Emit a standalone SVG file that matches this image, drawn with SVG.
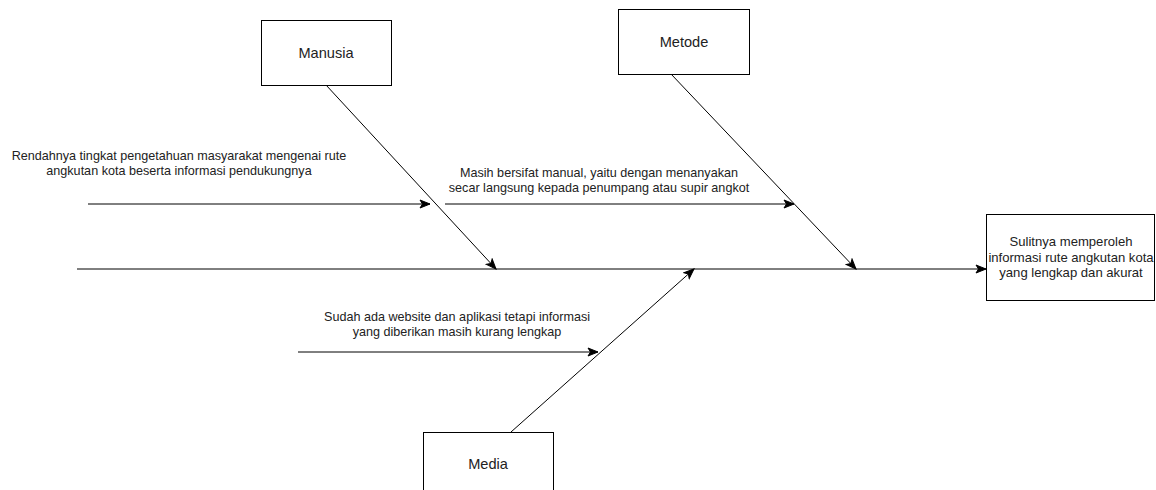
<svg xmlns="http://www.w3.org/2000/svg" width="1156" height="490" viewBox="0 0 1156 490">
  <style>
    .box { fill: #ffffff; stroke: #000000; stroke-width: 1; }
    .lbl { font-family: "Liberation Sans", Arial, Helvetica, sans-serif; font-size: 12.6px; fill: #222222; text-anchor: middle; }
    .title { font-size: 14.6px; }
    .effect { font-size: 13.1px; }
    .edge { fill: none; stroke: #000000; stroke-width: 1; marker-end: url(#arrow); }
  </style>
  <defs>
    <marker id="arrow" markerUnits="userSpaceOnUse" markerWidth="12" markerHeight="10" viewBox="0 0 12 10" refX="11" refY="5" orient="auto">
      <path d="M1,1 L11,5 L1,9 L3.5,5 Z" fill="#000000" stroke="#000000" stroke-width="1"/>
    </marker>
  </defs>
  <rect width="1156" height="490" fill="#ffffff"/>

  <g id="connectors">
    <!-- spine -->
    <line class="edge" x1="77" y1="269" x2="986" y2="269"/>
    <!-- category bones -->
    <line class="edge" x1="326" y1="85" x2="496" y2="269"/>
    <line class="edge" x1="671" y1="74" x2="856" y2="269"/>
    <line class="edge" x1="511" y1="432" x2="694" y2="269"/>
    <!-- cause arrows -->
    <line class="edge" x1="88" y1="204" x2="430" y2="204"/>
    <line class="edge" x1="445" y1="204" x2="794" y2="204"/>
    <line class="edge" x1="298" y1="352" x2="598" y2="352"/>
  </g>

  <g id="manusia">
    <rect class="box" x="261.5" y="20.5" width="130" height="65"/>
    <text class="lbl title" x="326" y="57.5">Manusia</text>
  </g>

  <g id="metode">
    <rect class="box" x="618.5" y="9.5" width="131" height="65"/>
    <text class="lbl title" x="684" y="47">Metode</text>
  </g>

  <g id="media">
    <rect class="box" x="423.5" y="432.5" width="130" height="65"/>
    <text class="lbl title" x="488" y="468.5">Media</text>
  </g>

  <g id="akibat">
    <rect class="box" x="986.5" y="214.5" width="168" height="86"/>
    <text class="lbl effect" x="1071" y="246">Sulitnya memperoleh</text>
    <text class="lbl effect" x="1071" y="261.5">informasi rute angkutan kota</text>
    <text class="lbl effect" x="1071" y="277">yang lengkap dan akurat</text>
  </g>

  <g id="sebab-manusia">
    <text class="lbl" x="179" y="160">Rendahnya tingkat pengetahuan masyarakat mengenai rute</text>
    <text class="lbl" x="179" y="174.5">angkutan kota beserta informasi pendukungnya</text>
  </g>

  <g id="sebab-metode">
    <text class="lbl" x="599" y="177">Masih bersifat manual, yaitu dengan menanyakan</text>
    <text class="lbl" x="599" y="191.5">secar langsung kepada penumpang atau supir angkot</text>
  </g>

  <g id="sebab-media">
    <text class="lbl" x="457" y="321">Sudah ada website dan aplikasi tetapi informasi</text>
    <text class="lbl" x="457" y="335.5">yang diberikan masih kurang lengkap</text>
  </g>
</svg>
